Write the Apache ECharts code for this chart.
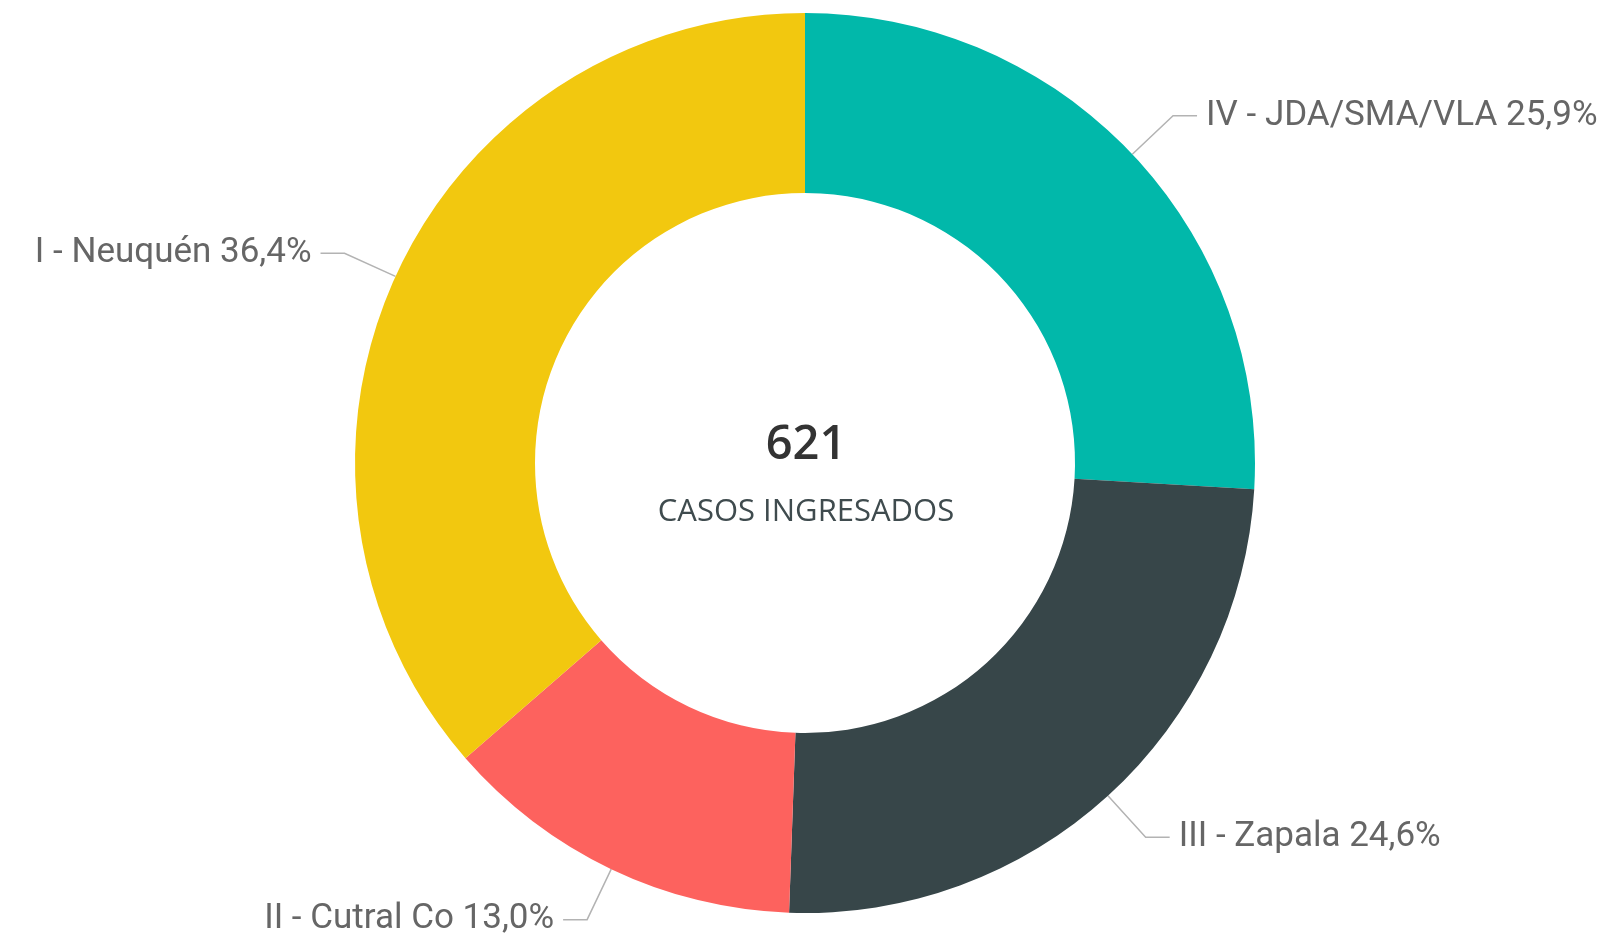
<!DOCTYPE html>
<html>
<head>
<meta charset="utf-8">
<title>Casos ingresados</title>
<script src="https://cdn.jsdelivr.net/npm/echarts@6/dist/echarts.min.js"></script>
<style>
  html, body { margin: 0; padding: 0; background: #fff; }
  #chart { width: 1612px; height: 939px; }
</style>
</head>
<body>
<div id="chart"></div>
<script>
// circunscripciones y casos
const regiones = ["IV - JDA/SMA/VLA", "III - Zapala", "II - Cutral Co", "I - Neuquén"];
const casos = [161, 153, 81, 226];
const colores = ["#01B8AA", "#374649", "#FD625E", "#F2C80F"];
const subtitulo = "CASOS INGRESADOS";

const total = casos.reduce((a, b) => a + b, 0);

const myChart = echarts.init(document.getElementById("chart"), null, { renderer: "canvas" });

const option = {
  animation: false,
  graphic: [
    {
      type: "text",
      left: "center",
      top: 422,
      style: {
        text: String(total),
        font: '600 47px "Open Sans", "Noto Sans", sans-serif',
        fill: "#333333",
        textAlign: "center",
      },
    },
    {
      type: "text",
      left: "center",
      top: 497,
      style: {
        text: subtitulo,
        font: '31px "Open Sans", "Noto Sans", sans-serif',
        fill: "#3f4b4e",
        textAlign: "center",
      },
    },
  ],
  series: [
    {
      type: "pie",
      center: [805, 463],
      radius: [270, 450],
      startAngle: 90,
      clockwise: true,
      avoidLabelOverlap: false,
      data: regiones.map((n, i) => ({
        name: n,
        value: casos[i],
        itemStyle: { color: colores[i] },
      })),
      label: {
        show: true,
        formatter: (p) => p.name + " " + ((p.value / total) * 100).toFixed(1).replace(".", ",") + "%",
        color: "#666666",
        fontFamily: "Roboto",
        fontSize: 35,
        distanceToLabelLine: 9,
      },
      labelLine: {
        show: true,
        length: 56,
        length2: 24,
        smooth: false,
        lineStyle: { color: "#b3b3b3", width: 1.5 },
      },
      emphasis: { disabled: true },
    },
  ],
};

myChart.setOption(option);
window.addEventListener("resize", myChart.resize);
</script>
</body>
</html>
